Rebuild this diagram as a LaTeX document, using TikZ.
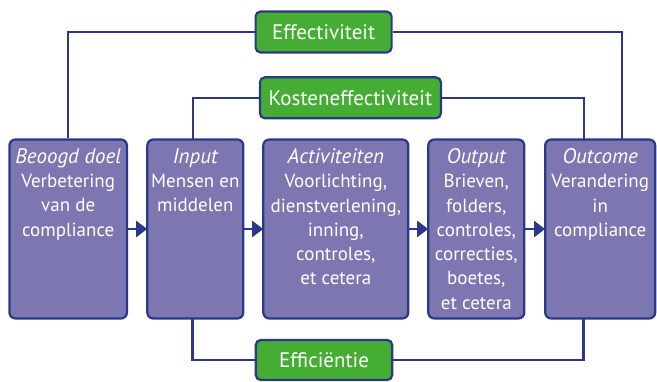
\documentclass[tikz,border=0pt]{standalone}
\usepackage{fontspec}
\setmainfont{PT Sans}
\usetikzlibrary{arrows.meta}
\definecolor{navy}{RGB}{43,56,135}
\definecolor{boxfill}{RGB}{124,119,176}
\definecolor{grn}{RGB}{69,172,52}
\newcommand{\stagetitle}[1]{{\fontsize{21}{24.3}\selectfont\itshape #1}}
\tikzset{
  stage/.style={draw=navy, fill=boxfill, line width=2.2pt, rounded corners=6pt, inner sep=0pt, minimum height=179pt},
  stagetext/.style={anchor=north, inner sep=0pt, align=center, text=white, font=\fontsize{19}{24.3}\selectfont},
  measure/.style={draw=navy, fill=grn, line width=2.2pt, rounded corners=5pt, inner sep=0pt, text=white, font=\fontsize{21}{22}\selectfont},
  conn/.style={draw=navy, line width=2.4pt},
  flow/.style={draw=navy, line width=2.4pt, -{Triangle[length=11pt,width=16pt]}, shorten >=-1pt}
}
\begin{document}
\begin{tikzpicture}[x=1pt,y=-1pt]
\useasboundingbox (0,0) rectangle (657,381);
% stage boxes
\node[stage, minimum width=117.5pt] (b1) at (68.2,229) {};
\node[stage, minimum width=96pt] (b2) at (195.3,229) {};
\node[stage, minimum width=145pt] (b3) at (335.8,229) {};
\node[stage, minimum width=96pt] (b4) at (476.3,229) {};
\node[stage, minimum width=110pt] (b5) at (600.2,229) {};
% texts
\node[stagetext] (t1) at (68.2,148.3) {\stagetitle{Beoogd doel}\\Verbetering\\van de\\compliance};
\node[stagetext] (t2) at (195.3,148.3) {\stagetitle{Input}\\Mensen en\\middelen};
\node[stagetext] (t3) at (335.8,148.3) {\stagetitle{Activiteiten}\\Voorlichting,\\dienstverlening,\\inning,\\controles,\\et cetera};
\node[stagetext] (t4) at (476.3,148.3) {\stagetitle{Output}\\Brieven,\\folders,\\controles,\\correcties,\\boetes,\\et cetera};
\node[stagetext] (t5) at (600.2,148.3) {\stagetitle{Outcome}\\Verandering\\in\\compliance};
% measure boxes
\node[measure, minimum width=136pt, minimum height=41pt] (eff) at (323.6,32) {Effectiviteit};
\node[measure, minimum width=181pt, minimum height=41pt] (kos) at (350.4,97.8) {Kosteneffectiviteit};
\node[measure, minimum width=136.5pt, minimum height=40pt] (efc) at (324,360) {Efficiëntie};
% connector end points
\coordinate (e5) at (621.7,139.3);
\coordinate (k2) at (192.7,139.3);
\coordinate (k5) at (584,139.3);
\coordinate (f2) at (192.5,318.6);
\coordinate (f5) at (583.5,318.6);
% connectors
\draw[conn] (b1.north) |- (eff.west);
\draw[conn] (eff.east) -| (e5);
\draw[conn] (k2) |- (kos.west);
\draw[conn] (kos.east) -| (k5);
\draw[conn] (f2) |- (efc.west);
\draw[conn] (efc.east) -| (f5);
% flow arrows
\draw[flow] (b1) -- (b2);
\draw[flow] (b2) -- (b3);
\draw[flow] (b3) -- (b4);
\draw[flow] (b4) -- (b5);
\end{tikzpicture}
\end{document}
